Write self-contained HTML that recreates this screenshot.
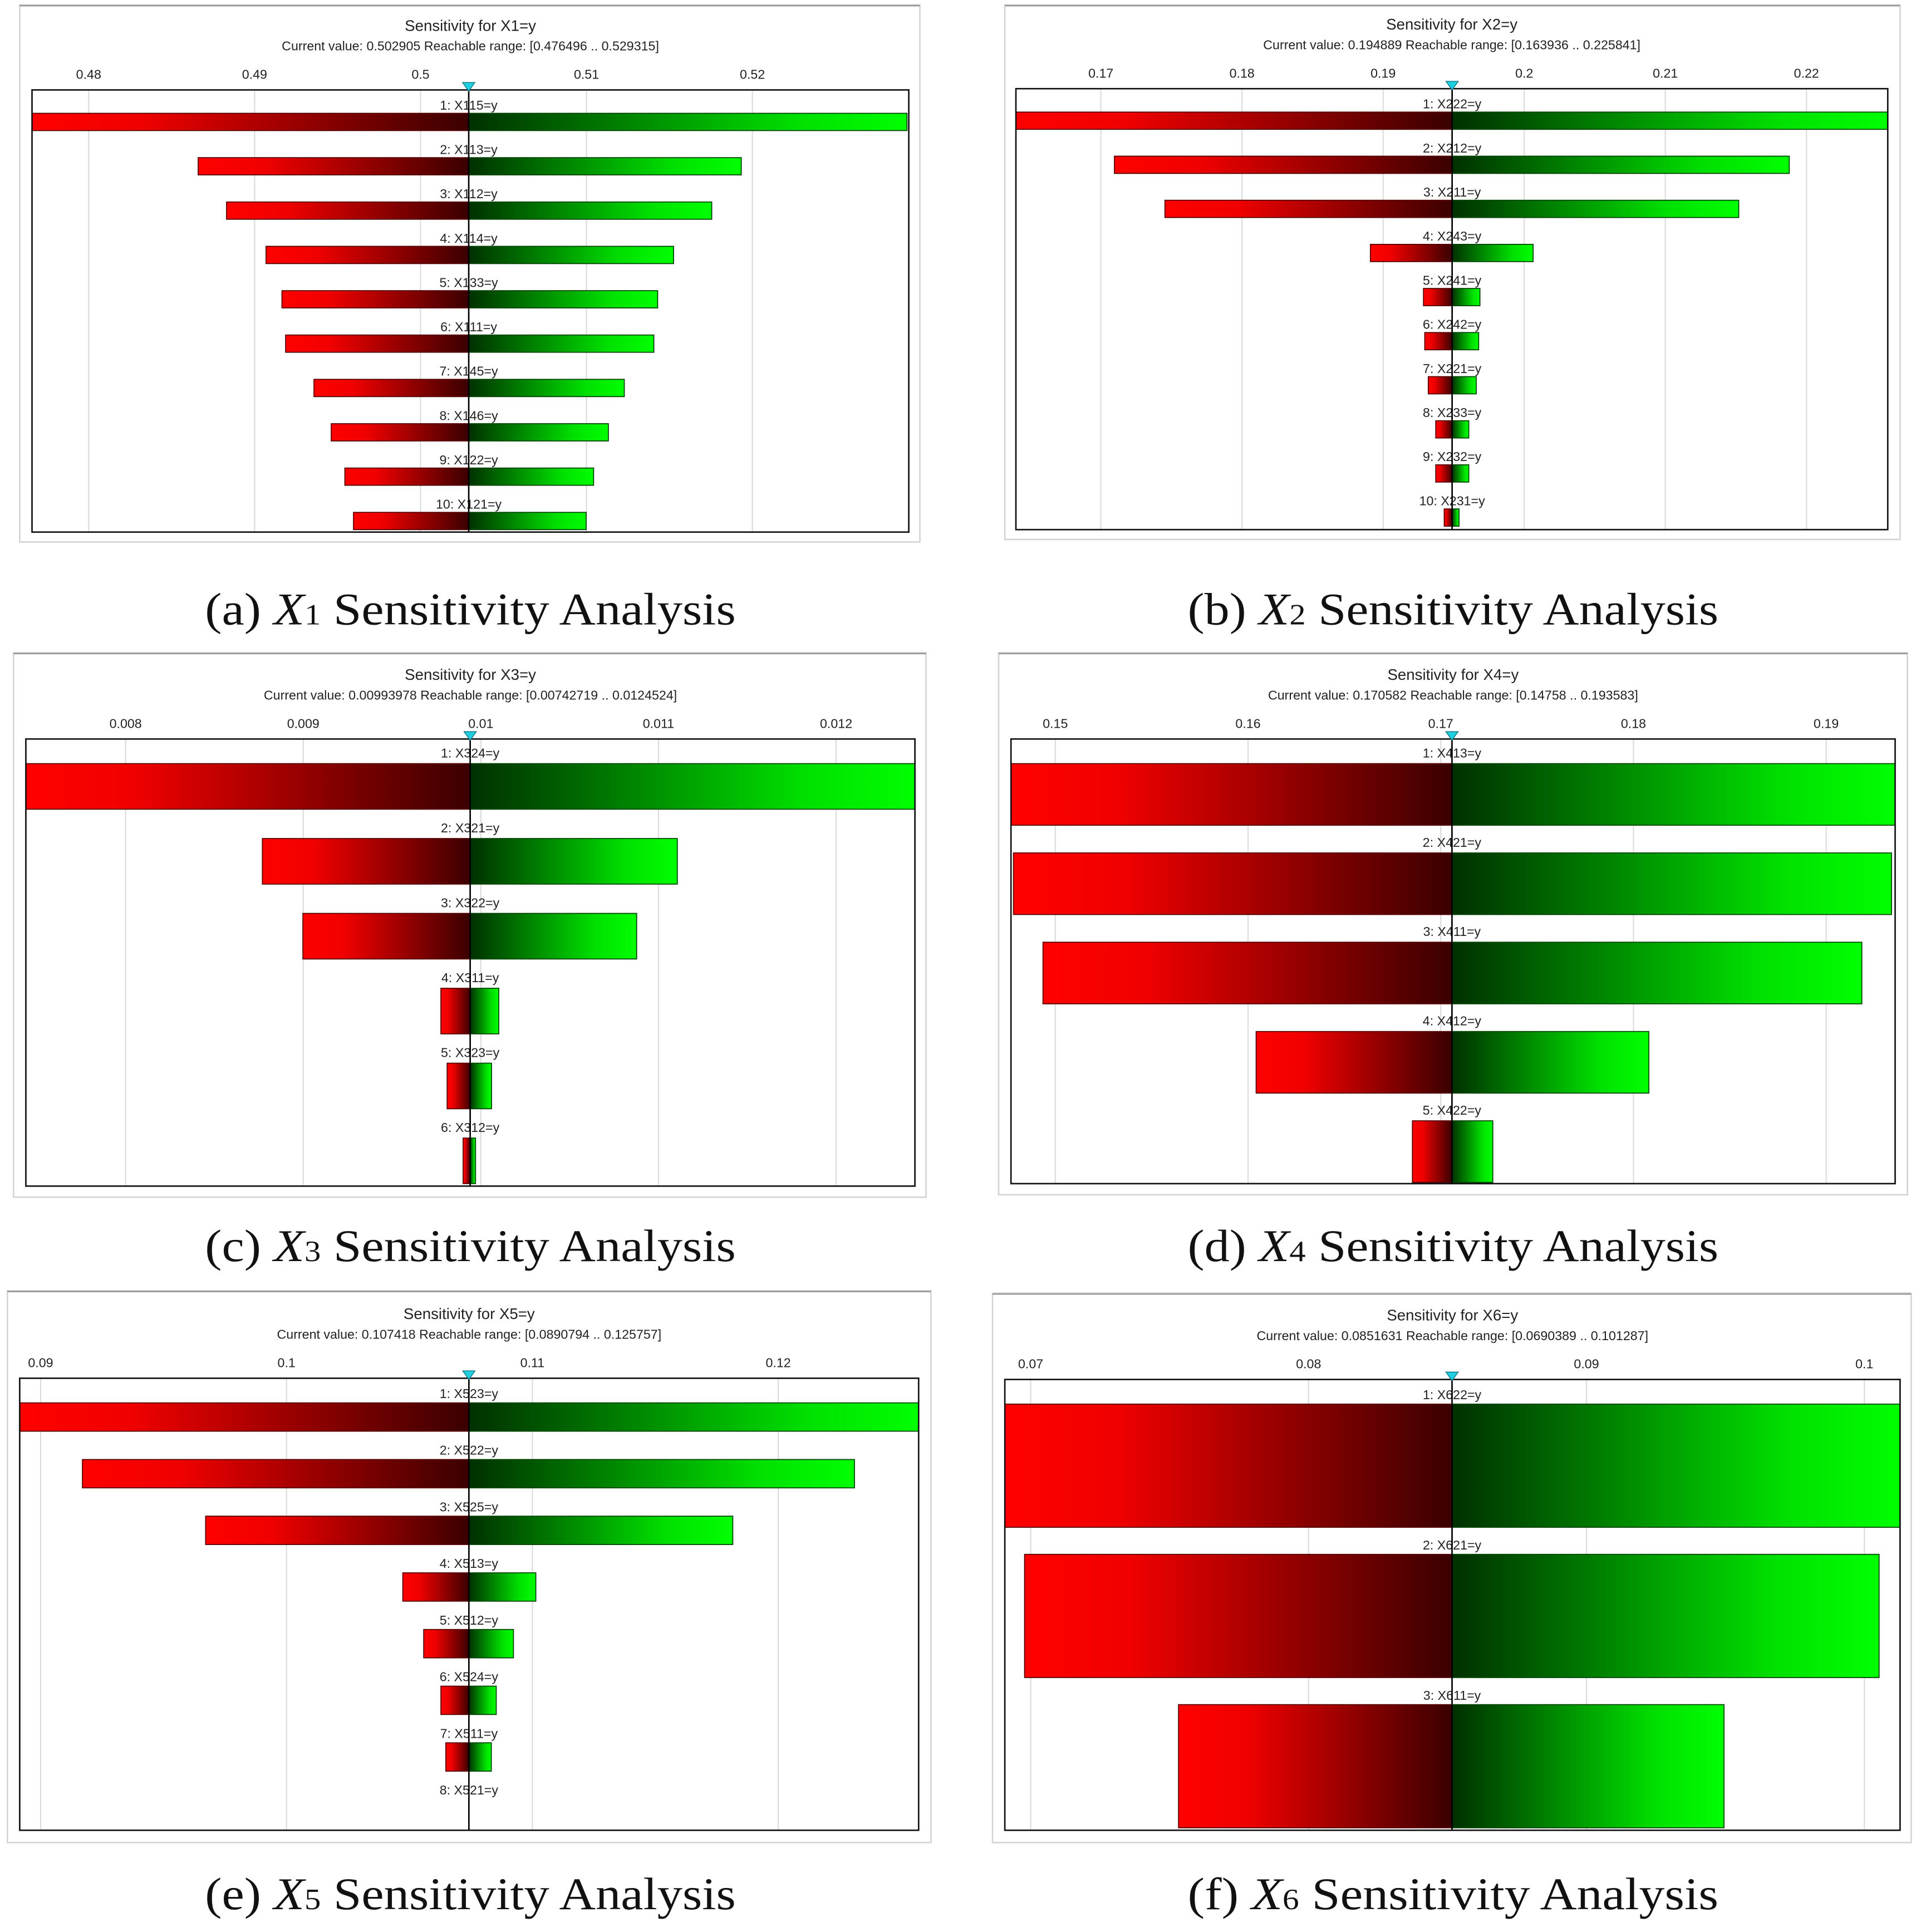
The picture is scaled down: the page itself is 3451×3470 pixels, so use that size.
<!DOCTYPE html>
<html><head><meta charset="utf-8"><style>
html,body{margin:0;padding:0;background:#fff}
svg{display:block}
</style></head><body>
<svg id="chart" xmlns="http://www.w3.org/2000/svg" width="3451" height="3470" viewBox="0 0 1560 1568.6" preserveAspectRatio="none">
<defs>
<linearGradient id="gRed" x1="0" y1="0" x2="1" y2="0"><stop offset="0" stop-color="#ff0000"/><stop offset="0.25" stop-color="#f00000"/><stop offset="1" stop-color="#3a0000"/></linearGradient>
<linearGradient id="gGreen" x1="0" y1="0" x2="1" y2="0"><stop offset="0" stop-color="#003000"/><stop offset="0.75" stop-color="#00e000"/><stop offset="1" stop-color="#00ff00"/></linearGradient>
</defs>
</svg>
<script>
// Panel data
const titlesA = ["Sensitivity for X1=y","Sensitivity for X2=y","Sensitivity for X3=y","Sensitivity for X4=y","Sensitivity for X5=y","Sensitivity for X6=y"];
const subtitles = ["Current value: 0.502905  Reachable range: [0.476496 .. 0.529315]","Current value: 0.194889  Reachable range: [0.163936 .. 0.225841]","Current value: 0.00993978  Reachable range: [0.00742719 .. 0.0124524]","Current value: 0.170582  Reachable range: [0.14758 .. 0.193583]","Current value: 0.107418  Reachable range: [0.0890794 .. 0.125757]","Current value: 0.0851631  Reachable range: [0.0690389 .. 0.101287]"];
const currentValues = [0.502905,0.194889,0.00993978,0.170582,0.107418,0.0851631];
const ticks1 = [0.48,0.49,0.5,0.51,0.52];
const ticks2 = [0.17,0.18,0.19,0.2,0.21,0.22];
const ticks3 = [0.008,0.009,0.01,0.011,0.012];
const ticks4 = [0.15,0.16,0.17,0.18,0.19];
const ticks5 = [0.09,0.1,0.11,0.12];
const ticks6 = [0.07,0.08,0.09,0.1];
const tickLabels1 = ["0.48","0.49","0.5","0.51","0.52"];
const tickLabels2 = ["0.17","0.18","0.19","0.2","0.21","0.22"];
const tickLabels3 = ["0.008","0.009","0.01","0.011","0.012"];
const tickLabels4 = ["0.15","0.16","0.17","0.18","0.19"];
const tickLabels5 = ["0.09","0.1","0.11","0.12"];
const tickLabels6 = ["0.07","0.08","0.09","0.1"];
const cats1 = ["1: X115=y","2: X113=y","3: X112=y","4: X114=y","5: X133=y","6: X111=y","7: X145=y","8: X146=y","9: X122=y","10: X121=y"];
const lows1 = [0.476496,0.4866,0.48831,0.49069,0.49165,0.49187,0.49358,0.49462,0.49544,0.49596];
const highs1 = [0.529315,0.51933,0.51755,0.51525,0.51429,0.51406,0.51228,0.51132,0.51043,0.50998];
const cats2 = ["1: X222=y","2: X212=y","3: X211=y","4: X243=y","5: X241=y","6: X242=y","7: X221=y","8: X233=y","9: X232=y","10: X231=y"];
const lows2 = [0.163936,0.17096,0.17454,0.1891,0.19286,0.19295,0.1932,0.19373,0.19373,0.19433];
const highs2 = [0.225841,0.21878,0.2152,0.20063,0.19686,0.19677,0.1966,0.19607,0.19607,0.19538];
const cats3 = ["1: X324=y","2: X321=y","3: X322=y","4: X311=y","5: X323=y","6: X312=y"];
const lows3 = [0.00742719,0.00877,0.008998,0.009775,0.00981,0.0099];
const highs3 = [0.0124524,0.011106,0.010877,0.010101,0.01006,0.00997];
const cats4 = ["1: X413=y","2: X421=y","3: X411=y","4: X412=y","5: X422=y"];
const lows4 = [0.14758,0.14783,0.14936,0.16042,0.16853];
const highs4 = [0.193583,0.19339,0.19185,0.1808,0.1727];
const cats5 = ["1: X523=y","2: X522=y","3: X525=y","4: X513=y","5: X512=y","6: X524=y","7: X511=y","8: X521=y"];
const lows5 = [0.0890794,0.0917,0.09671,0.10473,0.10558,0.10628,0.10648,0.107418];
const highs5 = [0.125757,0.1231,0.11815,0.11014,0.10923,0.10853,0.10833,0.107418];
const cats6 = ["1: X622=y","2: X621=y","3: X611=y"];
const lows6 = [0.0690389,0.06978,0.07532];
const highs6 = [0.101287,0.10053,0.09495];
const captions = [["(a) ","1"],["(b) ","2"],["(c) ","3"],["(d) ","4"],["(e) ","5"],["(f) ","6"]];

// layout (not data)
const layouts = [
 {frame:[16,4,747,440],plot:[26,73,738,432],t0:72,t1:611,rowY:85,rowStep:36,barOff:7,barH:14,capY:507,cx:382},
 {frame:[816,4,1543,438],plot:[825,72,1533,430],t0:894,t1:1467,rowY:84,rowStep:35.8,barOff:7,barH:14,capY:507,cx:1180},
 {frame:[11,530,752,972],plot:[21,600,743,963],t0:102,t1:679,rowY:611,rowStep:60.8,barOff:9,barH:37,capY:1024,cx:382},
 {frame:[811,530,1549,970],plot:[821,600,1539,961],t0:857,t1:1483,rowY:611,rowStep:72.5,barOff:9,barH:50,capY:1024,cx:1180},
 {frame:[6,1048,756,1496],plot:[16,1119,746,1486],t0:33,t1:632,rowY:1131,rowStep:46,barOff:8,barH:23,capY:1550,cx:382},
 {frame:[806,1050,1552,1496],plot:[816,1120,1543,1486],t0:837,t1:1514,rowY:1132,rowStep:122,barOff:8,barH:100,capY:1550,cx:1180}
];
const allTicks=[ticks1,ticks2,ticks3,ticks4,ticks5,ticks6];
const allTickLabels=[tickLabels1,tickLabels2,tickLabels3,tickLabels4,tickLabels5,tickLabels6];
const allCats=[cats1,cats2,cats3,cats4,cats5,cats6];
const allLows=[lows1,lows2,lows3,lows4,lows5,lows6];
const allHighs=[highs1,highs2,highs3,highs4,highs5,highs6];

const svg=document.getElementById('chart');
const NS='http://www.w3.org/2000/svg';
function mk(tag,attrs,parent){const e=document.createElementNS(NS,tag);for(const k in attrs)e.setAttribute(k,attrs[k]);(parent||svg).appendChild(e);return e;}
const SANS='"Liberation Sans", Arial, sans-serif';

for(let p=0;p<6;p++){
  const L=layouts[p], ticks=allTicks[p];
  const g=mk('g',{});
  
  
  const v0=ticks[0], v1=ticks[ticks.length-1];
  const xs=v=>L.t0+(v-v0)/(v1-v0)*(L.t1-L.t0);
  const [fx0,fy0,fx1,fy1]=L.frame, [px0,py0,px1,py1]=L.plot;
  const fr=mk('rect',{x:fx0,y:fy0,width:fx1-fx0,height:fy1-fy0,fill:'#fff',stroke:'#d4d4d4','stroke-width':1.2},g);
  
  
  mk('line',{x1:fx0,y1:fy0+0.6,x2:fx1,y2:fy0+0.6,stroke:'#999','stroke-width':1.2},g);
  const midX=(px0+px1)/2;
  const t=mk('text',{x:midX,y:py0-48,'text-anchor':'middle','font-family':SANS,'font-size':12.5,fill:'#222'},g);
  t.textContent=titlesA[p];
  
  
  const st=mk('text',{x:midX,y:py0-32,'text-anchor':'middle','font-family':SANS,'font-size':10.5,fill:'#222'},g);
  st.textContent=subtitles[p];
  
  
  const clipId='clip'+p;
  const cp=mk('clipPath',{id:clipId},g); mk('rect',{x:px0,y:py0,width:px1-px0,height:py1-py0},cp);
  ticks.forEach((tv,i)=>{
    const x=xs(tv);
    const gl=mk('line',{x1:x,y1:py0,x2:x,y2:py1,stroke:'#dcdcdc','stroke-width':1},g);
    
    
    const tl=mk('text',{x:x,y:py0-9,'text-anchor':'middle','font-family':SANS,'font-size':10.5,fill:'#222'},g);
    tl.textContent=allTickLabels[p][i];
    
    
  });
  const cx=xs(currentValues[p]);
  const bg=mk('g',{'clip-path':'url(#'+clipId+')'},g);
  allCats[p].forEach((c,i)=>{
    const ly=L.rowY+i*L.rowStep;
    const by=ly+L.barOff;
    const xl=xs(allLows[p][i]), xh=xs(allHighs[p][i]);
    if(cx-xl>0.01){
      const r=mk('rect',{x:xl,y:by,width:cx-xl,height:L.barH,fill:'url(#gRed)',stroke:'#500','stroke-width':0.8},bg);
      
      
    }
    if(xh-cx>0.01){
      const r=mk('rect',{x:cx,y:by,width:xh-cx,height:L.barH,fill:'url(#gGreen)',stroke:'#040','stroke-width':0.8},bg);
      
      
    }
    const lb=mk('text',{x:cx,y:ly+4,'text-anchor':'middle','font-family':SANS,'font-size':10.5,fill:'#222'},g);
    lb.textContent=c;
    
    
  });
  const pb=mk('rect',{x:px0,y:py0,width:px1-px0,height:py1-py0,fill:'none',stroke:'#111','stroke-width':1.2},g);
  
  
  const cl=mk('line',{x1:cx,y1:py0-4,x2:cx,y2:py1,stroke:'#000','stroke-width':1.2},g);
  
  
  const tri=mk('polygon',{points:(cx-5)+','+(py0-6)+' '+(cx+5)+','+(py0-6)+' '+cx+','+(py0+1),fill:'#20d0e0',stroke:'#0a7080','stroke-width':0.6},g);
  
  
  const cap=mk('text',{x:L.cx,y:L.capY,'text-anchor':'middle','font-family':'"Liberation Serif", serif','font-size':37,fill:'#111',textLength:431,lengthAdjust:'spacingAndGlyphs'},g);
  
  
  const s1=mk('tspan',{},cap); s1.textContent=captions[p][0];
  const s2=mk('tspan',{'font-style':'italic'},cap); s2.textContent='X';
  const s3=mk('tspan',{'font-size':24},cap); s3.textContent=captions[p][1];
  const s4=mk('tspan',{},cap); s4.textContent=' Sensitivity Analysis';
}
</script>
</body></html>
